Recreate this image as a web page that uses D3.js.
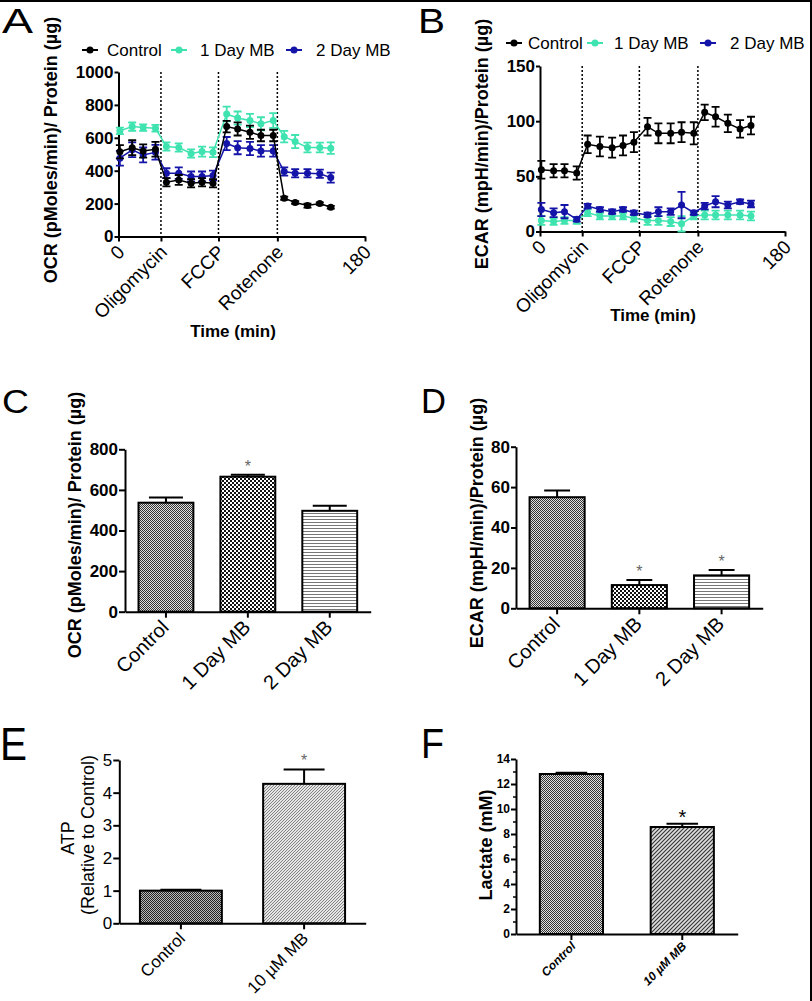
<!DOCTYPE html>
<html><head><meta charset="utf-8">
<script src="https://cdn.jsdelivr.net/npm/d3@7"></script>
<style>body{margin:0;background:#fff}svg{display:block}</style>
</head><body>
<svg id="fig" width="812" height="1001"></svg>
<script>
// ---------------- DATA ----------------
const timeMin = [1,10,18,27, 35,44,53,61,69, 79,87,96,104,113, 121,129,138,147,155];
const injectionTimes = [31,73,116];
const xTickValues = [0,31,73,116,180];
const xTickLabels = ["0","Oligomycin","FCCP","Rotenone","180"];
const seriesNames = ["Control","1 Day MB","2 Day MB"];
const seriesColors = ["#000000","#3fe3b0","#1414a8"];

const ocrControl    = [515,540,520,530, 330,344,324,330,324, 668,654,634,614,614, 233,207,188,200,178];
const ocrControlErr = [40,45,40,45, 25,30,25,25,25, 35,40,40,35,35, 10,8,12,8,8];
const ocr1Day       = [642,668,662,658, 547,541,505,516,512, 745,720,705,685,705, 607,577,541,541,537];
const ocr1DayErr    = [20,25,20,20, 25,25,25,30,30, 45,40,40,40,45, 35,40,30,30,35];
const ocr2Day       = [476,527,496,512, 385,385,365,365,371, 565,540,535,520,520, 395,385,385,381,358];
const ocr2DayErr    = [45,45,45,45, 30,35,30,30,30, 40,40,40,35,35, 25,25,25,25,30];

const ecarControl    = [56,55,55,53, 79,77,76,78,81, 95,89,89,90,89, 108,104,98,93,96];
const ecarControlErr = [8,6,6,6, 8,9,9,9,9, 8,9,9,9,10, 7,9,8,8,8];
const ecar1Day       = [10,9,10,10, 17,14,14,14,12, 10,10,9,7,14, 15,15,15,15,14];
const ecar1DayErr    = [4,3,3,3, 3,3,3,3,3, 4,4,4,7,3, 4,4,4,4,4];
const ecar2Day       = [20,17,18,11, 23,20,18,20,17, 15,18,18,24,17, 23,27,24,27,25];
const ecar2DayErr    = [6,4,6,2, 2,2,2,2,2, 2,4,3,12,2, 3,5,3,2,3];

const barCats3 = ["Control","1 Day MB","2 Day MB"];
const ocrBar = [537,665,497];
const ocrBarErr = [26,10,25];
const ocrBarStar = [false,true,false];
const ecarBar = [55,11.5,16.3];
const ecarBarErr = [3.3,2.5,2.7];
const ecarBarStar = [false,true,true];

const barCats2 = ["Control","10 \u00B5M MB"];
const atpVals = [1.0,4.27];
const atpErr = [0.03,0.44];
const atpStar = [false,true];
const lactateVals = [12.8,8.56];
const lactateErr = [0.1,0.26];
const lactateStar = [false,true];

const ocrTicks = [0,200,400,600,800,1000];
const ecarTicks = [0,50,100,150];
const ocrBarTicks = [0,200,400,600,800];
const ecarBarTicks = [0,20,40,60,80];
const atpTicks = [0,1,2,3,4,5];
const lactateTicks = [0,2,4,6,8,10,12,14];
const lactateMinor = [1,3,5,7,9,11,13];

// ---------------- SETUP ----------------
const FONT = "'Liberation Sans', Arial, Helvetica, sans-serif";
const fmt = d3.format("d");
const svg = d3.select("#fig");
svg.append("rect").attr("width",812).attr("height",1001).attr("fill","#fff");
svg.append("rect").attr("x",0).attr("y",0).attr("width",812).attr("height",2).attr("fill","#000");
svg.append("rect").attr("x",810).attr("y",0).attr("width",2).attr("height",1001).attr("fill","#000");

const defs = svg.append("defs");
function pat(id,w,h,build){
  const p = defs.append("pattern").attr("id",id).attr("patternUnits","userSpaceOnUse")
    .attr("width",w).attr("height",h);
  build(p);
}
pat("pFine",2,2,p=>{
  p.append("rect").attr("width",2).attr("height",2).attr("fill","#e0e0e0");
  p.append("rect").attr("width",1).attr("height",1).attr("fill","#333");
  p.append("rect").attr("x",1).attr("y",1).attr("width",1).attr("height",1).attr("fill","#333");
});
pat("pFineDark",2,2,p=>{
  p.append("rect").attr("width",2).attr("height",2).attr("fill","#bbb");
  p.append("rect").attr("width",1).attr("height",1).attr("fill","#222");
  p.append("rect").attr("x",1).attr("y",1).attr("width",1).attr("height",1).attr("fill","#222");
});
pat("pCheck",4,4,p=>{
  p.append("rect").attr("width",4).attr("height",4).attr("fill","#111");
  p.append("rect").attr("width",2).attr("height",2).attr("fill","#fff");
  p.append("rect").attr("x",2).attr("y",2).attr("width",2).attr("height",2).attr("fill","#fff");
});
pat("pHLines",3,3,p=>{
  p.append("rect").attr("width",3).attr("height",3).attr("fill","#fff");
  p.append("rect").attr("width",3).attr("height",1).attr("fill","#777");
});
pat("pDiagLight",3,3,p=>{
  p.append("rect").attr("width",3).attr("height",3).attr("fill","#e6e6e6");
  p.append("path").attr("d","M-1,1 l2,-2 M0,3 l3,-3 M2,4 l2,-2").attr("stroke","#777").attr("stroke-width",0.9);
});
pat("pDiagDark",4,4,p=>{
  p.append("rect").attr("width",4).attr("height",4).attr("fill","#ddd");
  p.append("path").attr("d","M-1,1 l2,-2 M0,4 l4,-4 M3,5 l2,-2").attr("stroke","#333").attr("stroke-width",1.1);
});

function styleAxis(g, size, weight, style){
  g.select(".domain").attr("stroke","#000").attr("stroke-width",2);
  g.selectAll(".tick line").attr("stroke","#000").attr("stroke-width",2);
  g.selectAll(".tick text").attr("font-family",FONT).attr("font-size",size)
    .attr("font-weight",weight).attr("font-style",style||"normal").attr("fill","#000");
}
function rotLabels(g, dx, dy){
  g.selectAll(".tick text").attr("x",0).attr("y",0).attr("dy","0.35em")
    .attr("text-anchor","end").attr("transform",`translate(${dx},${dy}) rotate(-45)`);
}
function vTitle(text, x, y, size, weight){
  svg.append("text").attr("transform",`translate(${x},${y}) rotate(-90)`)
    .attr("text-anchor","middle").attr("dominant-baseline","central")
    .attr("font-family",FONT).attr("font-size",size).attr("font-weight",weight)
    .attr("fill","#000").text(text);
}
function hText(text,x,y,size,weight,anchor){
  return svg.append("text").attr("x",x).attr("y",y).attr("text-anchor",anchor||"start")
    .attr("font-family",FONT).attr("font-size",size).attr("font-weight",weight||"normal")
    .attr("fill","#000").text(text);
}
function panelLetter(t,x,y,size,w){
  hText(t,x,y,size,"normal").attr("textLength",w).attr("lengthAdjust","spacingAndGlyphs");
}

// ---------------- LINE CHARTS ----------------
function lineChart(cfg){
  const x = d3.scaleLinear().domain([0,180]).range([cfg.x0,cfg.x1]);
  const y = d3.scaleLinear().domain([0,cfg.yMax]).range([cfg.yb,cfg.yt]);
  const g = svg.append("g");
  g.selectAll("line.inj").data(injectionTimes).join("line").attr("class","inj")
    .attr("x1",d=>x(d)).attr("x2",d=>x(d)).attr("y1",y(cfg.yMax)).attr("y2",y(0))
    .attr("stroke","#000").attr("stroke-width",1.5).attr("stroke-dasharray","2,2");
  const ya = g.append("g").attr("transform",`translate(${cfg.x0},0)`)
    .call(d3.axisLeft(y).tickValues(cfg.yTicks).tickFormat(fmt).tickSize(4).tickPadding(1).tickSizeOuter(0));
  styleAxis(ya,17,"bold");
  const xa = g.append("g").attr("transform",`translate(0,${cfg.yb})`)
    .call(d3.axisBottom(x).tickValues(xTickValues).tickFormat((d,i)=>xTickLabels[i]).tickSize(5).tickSizeOuter(0));
  styleAxis(xa,19,"normal");
  rotLabels(xa,2,12);
  cfg.series.forEach(s=>{
    const sg = g.append("g");
    sg.append("path").datum(s.values)
      .attr("d", d3.line().x((d,i)=>x(timeMin[i])).y(d=>y(d)))
      .attr("fill","none").attr("stroke",s.color).attr("stroke-width",1.5);
    sg.selectAll("path.err").data(s.values).join("path").attr("class","err")
      .attr("d",(d,i)=>{const xx=x(timeMin[i]),y1=y(d+s.err[i]),y2=y(d-s.err[i]);
        return `M${xx},${y1}V${y2}M${xx-4},${y1}H${xx+4}M${xx-4},${y2}H${xx+4}`;})
      .attr("stroke",s.color).attr("stroke-width",1.8).attr("fill","none");
    sg.selectAll("circle").data(s.values).join("circle")
      .attr("cx",(d,i)=>x(timeMin[i])).attr("cy",d=>y(d)).attr("r",3.5).attr("fill",s.color);
  });
  cfg.legend.forEach((L,i)=>{
    const c = seriesColors[i];
    svg.append("line").attr("x1",L.mx-8).attr("x2",L.mx+8).attr("y1",cfg.ly).attr("y2",cfg.ly)
      .attr("stroke",c).attr("stroke-width",2);
    svg.append("circle").attr("cx",L.mx).attr("cy",cfg.ly).attr("r",3.5).attr("fill",c);
    hText(seriesNames[i],L.tx,cfg.ly+6,17,"normal");
  });
  vTitle(cfg.yTitle,cfg.yTitleX,cfg.yTitleY,18,"bold");
  hText("Time (min)",cfg.tX,cfg.tY,17,"bold","middle");
}

lineChart({x0:118.5,x1:365,yb:236.5,yt:72,yMax:1000,yTicks:ocrTicks,
  series:[
    {values:ocr1Day,err:ocr1DayErr,color:seriesColors[1]},
    {values:ocr2Day,err:ocr2DayErr,color:seriesColors[2]},
    {values:ocrControl,err:ocrControlErr,color:seriesColors[0]}],
  ly:50, legend:[{mx:90,tx:107},{mx:179,tx:200},{mx:294,tx:316}],
  yTitle:"OCR (pMoles/min)/ Protein (\u00B5g)",yTitleX:51,yTitleY:150,
  tX:233,tY:337});

lineChart({x0:540,x1:785,yb:231.5,yt:66,yMax:150,yTicks:ecarTicks,
  series:[
    {values:ecar1Day,err:ecar1DayErr,color:seriesColors[1]},
    {values:ecar2Day,err:ecar2DayErr,color:seriesColors[2]},
    {values:ecarControl,err:ecarControlErr,color:seriesColors[0]}],
  ly:43, legend:[{mx:514,tx:528},{mx:595,tx:614},{mx:708,tx:730}],
  yTitle:"ECAR (mpH/min)/Protein (\u00B5g)",yTitleX:482,yTitleY:144,
  tX:653,tY:321});

// ---------------- BAR CHARTS ----------------
function barChart(cfg){
  const x = d3.scaleBand().domain(cfg.cats).range([cfg.x0,cfg.x1])
    .paddingInner(cfg.pad).paddingOuter(cfg.pad/2);
  const y = d3.scaleLinear().domain([0,cfg.yMax]).range([cfg.yb,cfg.yt]);
  const rows = cfg.cats.map((c,i)=>({c, v:cfg.values[i], e:cfg.errs[i], s:cfg.stars[i], p:cfg.patterns[i]}));
  const g = svg.append("g");
  g.selectAll("rect.bar").data(rows).join("rect").attr("class","bar")
    .attr("x",d=>x(d.c)).attr("width",x.bandwidth())
    .attr("y",d=>y(d.v)).attr("height",d=>y(0)-y(d.v))
    .attr("fill",d=>`url(#${d.p})`).attr("stroke","#000").attr("stroke-width",2);
  const capW = x.bandwidth()*cfg.cap/2;
  g.selectAll("path.eb").data(rows).join("path").attr("class","eb")
    .attr("d",d=>{const cx=x(d.c)+x.bandwidth()/2;
      return `M${cx},${y(d.v)}V${y(d.v+d.e)}M${cx-capW},${y(d.v+d.e)}H${cx+capW}`;})
    .attr("stroke","#000").attr("stroke-width",2).attr("fill","none");
  g.selectAll("text.star").data(rows.filter(d=>d.s)).join("text").attr("class","star")
    .attr("x",d=>x(d.c)+x.bandwidth()/2)
    .attr("y",d=>y(d.v+d.e)-cfg.starOff)
    .attr("text-anchor","middle").attr("font-family",FONT).attr("font-size",cfg.starSize)
    .attr("fill",cfg.starColor).text("*");
  if (cfg.minor){
    g.append("g").attr("transform",`translate(${cfg.x0},0)`)
      .call(d3.axisLeft(y).tickValues(cfg.minor).tickSize(3).tickFormat(""))
      .call(a=>{a.select(".domain").remove();a.selectAll("line").attr("stroke","#000").attr("stroke-width",1.5);});
  }
  const ya = g.append("g").attr("transform",`translate(${cfg.x0},0)`)
    .call(d3.axisLeft(y).tickValues(cfg.yTicks).tickFormat(fmt).tickSize(cfg.ytick).tickPadding(1).tickSizeOuter(0));
  styleAxis(ya,cfg.yFont,cfg.yWeight);
  const xa = g.append("g").attr("transform",`translate(0,${cfg.yb})`)
    .call(d3.axisBottom(x).tickSize(6).tickSizeOuter(0));
  styleAxis(xa,cfg.xFont,cfg.xWeight,cfg.xStyle);
  rotLabels(xa,cfg.lx,cfg.ly);
}

barChart({cats:barCats3,values:ocrBar,errs:ocrBarErr,stars:ocrBarStar,
  patterns:["pFine","pCheck","pHLines"],x0:125,x1:370.7,yb:611.7,yt:449.3,yMax:800,
  yTicks:ocrBarTicks,pad:0.33,cap:0.62,ytick:6,yFont:17,yWeight:"bold",
  xFont:20,xWeight:"normal",lx:-1,ly:12,starSize:16,starColor:"#666",starOff:3});
barChart({cats:barCats3,values:ecarBar,errs:ecarBarErr,stars:ecarBarStar,
  patterns:["pFine","pCheck","pHLines"],x0:516,x1:762.7,yb:608.3,yt:446.7,yMax:80,
  yTicks:ecarBarTicks,pad:0.33,cap:0.47,ytick:5,yFont:17,yWeight:"bold",
  xFont:20,xWeight:"normal",lx:-1,ly:12,starSize:16,starColor:"#666",starOff:3});
barChart({cats:barCats2,values:atpVals,errs:atpErr,stars:atpStar,
  patterns:["pFineDark","pDiagLight"],x0:119.3,x1:365.7,yb:923.3,yt:760,yMax:5,
  yTicks:atpTicks,pad:0.335,cap:0.5,ytick:6,yFont:17,yWeight:"normal",
  xFont:17,xWeight:"normal",lx:1,ly:12,starSize:16,starColor:"#666",starOff:3});
barChart({cats:barCats2,values:lactateVals,errs:lactateErr,stars:lactateStar,minor:lactateMinor,
  patterns:["pFine","pDiagDark"],x0:516,x1:737.7,yb:934,yt:759,yMax:14,
  yTicks:lactateTicks,pad:0.43,cap:0.5,ytick:5,yFont:12,yWeight:"bold",
  xFont:12,xWeight:"bold",xStyle:"italic",lx:2,ly:10,starSize:20,starColor:"#000",starOff:0});

// axis titles for bar panels
vTitle("OCR (pMoles/min)/ Protein (\u00B5g)",75,525,18,"bold");
vTitle("ECAR (mpH/min)/Protein (\u00B5g)",477,523,18,"bold");
vTitle("ATP",68,838,18,"normal");
vTitle("(Relative to Control)",88,835,18,"normal");
vTitle("Lactate (mM)",486,845,18,"bold");

// panel letters
panelLetter("A",2,33,35,31);
panelLetter("B",418,33,35,27);
panelLetter("C",2,413,33,27);
panelLetter("D",421,413,35,25);
panelLetter("E",0,760,46,27);
panelLetter("F",421,758,42,23);
</script>
</body></html>
